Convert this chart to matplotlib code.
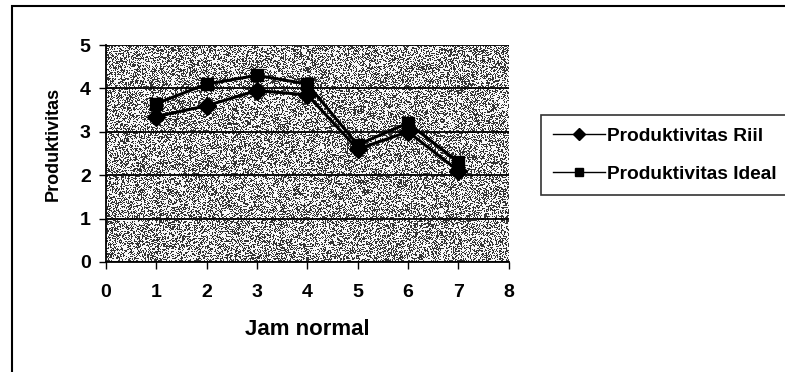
import numpy as np
import matplotlib
matplotlib.use("Agg")
import matplotlib.pyplot as plt
from matplotlib.patches import Rectangle
from matplotlib.lines import Line2D

# Productivity per normal working hour
jam = [1, 2, 3, 4, 5, 6, 7]
produktivitas_riil = [3.35, 3.6, 3.95, 3.85, 2.6, 3.0, 2.1]
produktivitas_ideal = [3.65, 4.1, 4.3, 4.1, 2.7, 3.2, 2.3]
series_names = ['Produktivitas Riil', 'Produktivitas Ideal']

plt.rcParams['font.family'] = ['Liberation Sans', 'DejaVu Sans']
plt.rcParams['font.weight'] = 'bold'

fig = plt.figure(figsize=(7.85, 3.72), dpi=100)
ax = fig.add_axes([0.135, 0.296, 0.513, 0.583])

# stippled grey plot area
rng = np.random.default_rng(3)
speckle = np.where(rng.random((220, 400)) > 0.42, 0.97, 0.2)
ax.imshow(speckle, cmap='gray', vmin=0, vmax=1, extent=(0, 8, 0, 5),
          aspect='auto', interpolation='nearest', zorder=0)

ax.set_xlim(0, 8)
ax.set_ylim(0, 5)
ax.set_xticks(range(0, 9))
ax.set_yticks(range(0, 6))
ax.yaxis.grid(True, color='black', linewidth=1.3)
ax.set_axisbelow(False)
for s in ['top', 'right']:
    ax.spines[s].set_visible(False)
for s in ['left', 'bottom']:
    ax.spines[s].set_linewidth(1.3)
ax.tick_params(axis='both', labelsize=14, length=5, width=1, color='black')
ax.tick_params(axis='x', pad=11)
ax.tick_params(axis='y', pad=6)

ax.plot(jam, produktivitas_riil, color='black', linewidth=2.2, marker='D',
        markersize=9, zorder=3)
ax.plot(jam, produktivitas_ideal, color='black', linewidth=2.2, marker='s',
        markersize=9, zorder=3)

ax.set_xlabel('Jam normal', fontsize=16, fontweight='bold')
ax.xaxis.set_label_coords(0.5, -0.263)
ax.set_ylabel('Produktivitas', fontsize=13, fontweight='bold')
ax.yaxis.set_label_coords(-0.109, 0.546)

# legend keys are drawn thinner than the plotted series
handles = [Line2D([], [], color='black', linewidth=1, marker='D', markersize=6),
           Line2D([], [], color='black', linewidth=1, marker='s', markersize=6)]
leg = fig.legend(handles, series_names, loc='upper left',
                 bbox_to_anchor=(0.689, 0.69), frameon=True, fancybox=False,
                 handlelength=2.7, borderpad=0.65, labelspacing=1.04,
                 handletextpad=0.12, borderaxespad=0,
                 prop={'weight': 'bold', 'size': 13.8})
leg.get_frame().set_edgecolor('black')
leg.get_frame().set_linewidth(1.2)

# outer chart border
fig.add_artist(Rectangle((0.0153, -0.05), 1.1, 1.034, transform=fig.transFigure,
                         fill=False, edgecolor='black', linewidth=1.5))

fig.savefig('out.png', dpi=100, facecolor='white')
